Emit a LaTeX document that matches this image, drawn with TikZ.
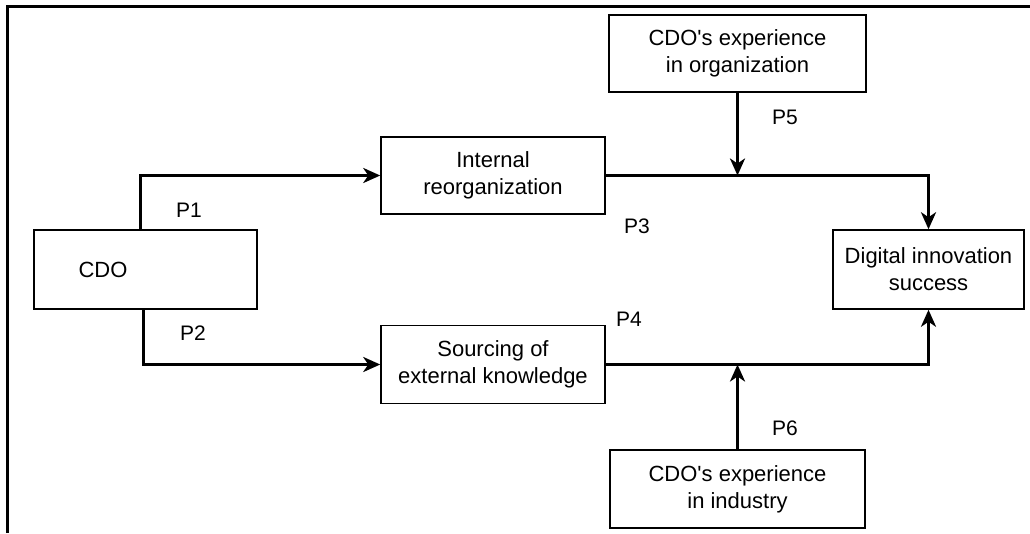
\documentclass[tikz,border=0pt]{standalone}
\usepackage{fontspec}
\setmainfont{Liberation Sans}
\usetikzlibrary{arrows.meta,calc}
\begin{document}
\begin{tikzpicture}[x=1pt,y=-1pt,
  box/.style={draw, line width=1.5pt, inner sep=0pt, align=center,
    font=\fontsize{22pt}{27pt}\selectfont},
  lbl/.style={inner sep=0pt, font=\fontsize{21pt}{24pt}\selectfont},
  conn/.style={line width=3.2pt},
  arr/.style={conn, -{Stealth[length=17pt,width=15pt,inset=5pt]}},
  frame/.style={line width=3pt}]
\useasboundingbox (0,0) rectangle (1030,533);
\coordinate (fb) at (7,533);
\coordinate (fc) at (7,6);
\coordinate (fr) at (1030,6);
\draw[frame] (fb) -- (fc) -- (fr);

\node[box, minimum width=223pt, minimum height=79pt] (cdo) at (145.5,269.5) {};
\node[lbl, font=\fontsize{22pt}{27pt}\selectfont] (cdot) at (103,270) {CDO};
\node[box, minimum width=224pt, minimum height=77pt] (ir) at (493,175.5) {Internal\\reorganization};
\node[box, minimum width=224pt, minimum height=78pt] (sk) at (493,364.5) {Sourcing of\\external knowledge};
\node[box, minimum width=257pt, minimum height=77pt] (to) at (737.5,53.5) {CDO\textquotesingle s experience\\in organization};
\node[box, minimum width=191pt, minimum height=79pt] (dis) at (928.5,269.5) {Digital innovation\\success};
\node[box, minimum width=255pt, minimum height=78pt] (bo) at (737.5,489) {CDO\textquotesingle s experience\\in industry};

\draw[arr] ($(cdo.north west)+(107,0)$) |- (ir.west);
\draw[arr] ($(cdo.south west)+(110,0)$) |- (sk.west);
\draw[arr] (ir.east) -| (dis.north);
\draw[arr] (sk.east) -| (dis.south);
\draw[arr] (to.south) -- (to.south |- ir.east);
\draw[arr] (bo.north) -- (bo.north |- sk.east);

\node[lbl] (p1) at (189,210) {P1};
\node[lbl] (p2) at (193,333) {P2};
\node[lbl] (p3) at (637,226) {P3};
\node[lbl] (p4) at (629,319) {P4};
\node[lbl] (p5) at (785,117) {P5};
\node[lbl] (p6) at (785,428) {P6};
\end{tikzpicture}
\end{document}
